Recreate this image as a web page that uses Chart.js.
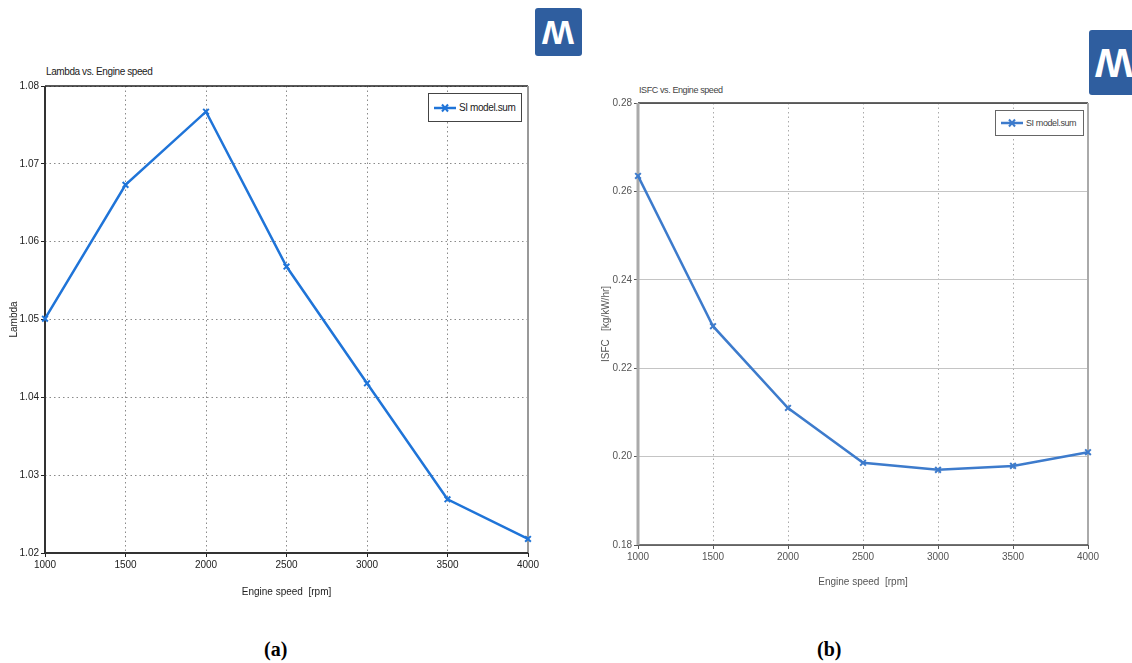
<!DOCTYPE html>
<html>
<head>
<meta charset="utf-8">
<script src="https://cdn.jsdelivr.net/npm/chart.js@4.4.0/dist/chart.umd.min.js"></script>
<style>
  html, body { margin: 0; padding: 0; background: #fff; }
  body { width: 1132px; height: 663px; position: relative; overflow: hidden;
         font-family: 'Liberation Sans Narrow', 'Liberation Sans', Arial, sans-serif; }
  .wrap { position: absolute; }
  .ttl { position: absolute; font-size: 10px; color: #222; white-space: nowrap; letter-spacing: -0.4px; }
  .legend { position: absolute; background: #fff; border: 1px solid #444; box-sizing: border-box;
            font-size: 10px; color: #222; display: flex; align-items: center; white-space: nowrap; letter-spacing: -0.4px; overflow: hidden; }
  .legend canvas { margin: 0 3px 0 5px; }
  .cap { position: absolute; font-family: 'Liberation Serif', 'Times New Roman', serif; font-weight: bold; font-size: 20px; color: #000; }
  .logo { position: absolute; background: #2f5e9f; border-radius: 3px; color: #fff; font-family: 'Liberation Sans', Arial, sans-serif;
          font-weight: bold; display: flex; align-items: center; justify-content: center; overflow: hidden; }
</style>
</head>
<body>
<div class="logo" style="left:535px;top:8px;width:47px;height:48px;font-size:34px;"><span style="transform:scaleX(-1) scaleY(-1);display:inline-block;">W</span></div>
<div class="logo" style="left:1089px;top:30px;width:50px;height:65px;font-size:40px;"><span style="transform:scaleX(-1) scaleY(-1);display:inline-block;">W</span></div>

<div class="ttl" style="left:46px;top:66px;">Lambda vs. Engine speed</div>
<div class="ttl" style="left:639px;top:85px;font-size:9px;color:#444;">ISFC vs. Engine speed</div>

<div class="wrap" style="left:0;top:60px;width:560px;height:560px;"><canvas id="c1"></canvas></div>
<div class="wrap" style="left:595px;top:70px;width:537px;height:540px;"><canvas id="c2"></canvas></div>

<div class="legend" style="left:428px;top:93px;width:94px;height:29px;"><canvas id="lg1" width="22" height="10"></canvas>SI model.sum</div>
<div class="legend" style="left:995px;top:110px;width:89px;height:26px;border-color:#666;color:#444;font-size:9px;"><canvas id="lg2" width="22" height="10"></canvas>SI model.sum</div>

<div class="cap" style="left:264px;top:638px;">(a)</div>
<div class="cap" style="left:817px;top:638px;">(b)</div>

<script>
// ---- data ----
const speeds = [1000, 1500, 2000, 2500, 3000, 3500, 4000];
const lambdaValues = [1.0501, 1.0673, 1.0767, 1.0568, 1.0418, 1.0269, 1.0218];
const isfcValues = [0.2635, 0.2295, 0.2110, 0.1986, 0.1970, 0.1979, 0.2010];
const speedTicks = [1000, 1500, 2000, 2500, 3000, 3500, 4000];
const lambdaTicks = [1.02, 1.03, 1.04, 1.05, 1.06, 1.07, 1.08];
const isfcTicks = [0.18, 0.20, 0.22, 0.24, 0.26, 0.28];
const seriesName = 'SI model.sum';

const FONT = "'Liberation Sans Narrow', 'Liberation Sans', Arial, sans-serif";

function framePlugin(cfg) {
  return {
    id: 'frame',
    beforeDatasetsDraw(chart) {
      const a = chart.chartArea, ctx = chart.ctx;
      ctx.save();
      ctx.setLineDash([]);
      const line = (x1, y1, x2, y2, c, w) => {
        ctx.strokeStyle = c; ctx.lineWidth = w;
        ctx.beginPath(); ctx.moveTo(x1, y1); ctx.lineTo(x2, y2); ctx.stroke();
      };
      line(a.left, a.top, a.right, a.top, cfg.top, cfg.topW);
      line(a.right, a.top, a.right, a.bottom, cfg.right, cfg.rightW);
      line(a.left, a.bottom, a.right, a.bottom, cfg.bottom, cfg.bottomW);
      line(a.left, a.top, a.left, a.bottom, cfg.left, cfg.leftW);
      ctx.restore();
    }
  };
}

function makeChart(id, values, yTicks, yTitle, opts) {
  const data = speeds.map((s, i) => ({ x: s, y: values[i] }));
  return new Chart(document.getElementById(id), {
    type: 'line',
    data: { datasets: [{
      label: seriesName, data,
      borderColor: opts.color, backgroundColor: opts.color,
      borderWidth: 2.5, pointStyle: 'crossRot', pointRadius: 4, pointBorderWidth: 2,
      pointBorderColor: opts.color, tension: 0, clip: false
    }]},
    options: {
      responsive: true, maintainAspectRatio: false, animation: false,
      layout: { padding: opts.padding },
      plugins: { legend: { display: false }, tooltip: { enabled: false } },
      scales: {
        x: {
          type: 'linear', min: speedTicks[0], max: speedTicks[speedTicks.length - 1],
          afterBuildTicks: s => { s.ticks = speedTicks.map(v => ({ value: v })); },
          afterFit: s => { s.height = opts.xHeight; },
          ticks: { font: { family: FONT, size: 10 }, color: opts.textColor, padding: 2,
                   maxRotation: 0, autoSkip: false, callback: v => String(v) },
          grid: { color: opts.vGrid, lineWidth: 1, tickLength: 4, tickColor: opts.textColor, tickBorderDash: [] },
          border: { display: false, dash: [1.5, 3] },
          title: { display: true, text: 'Engine speed  [rpm]', font: { family: FONT, size: 10 }, color: opts.textColor, padding: { top: 4, bottom: opts.xTitlePad } }
        },
        y: {
          type: 'linear', min: yTicks[0], max: yTicks[yTicks.length - 1],
          afterBuildTicks: s => { s.ticks = yTicks.map(v => ({ value: v })); },
          afterFit: s => { s.width = opts.yWidth; },
          ticks: { font: { family: FONT, size: 10 }, color: opts.textColor, padding: 2,
                   autoSkip: false, callback: v => Number(v).toFixed(2) },
          grid: { color: opts.hGrid, lineWidth: 1, tickLength: 4, tickColor: opts.textColor, tickBorderDash: [] },
          border: { display: false, dash: opts.hDash },
          title: { display: true, text: yTitle, font: { family: FONT, size: 10 }, color: opts.textColor, padding: { top: opts.yTitlePad, bottom: 0 } }
        }
      }
    },
    plugins: [framePlugin(opts.frame)]
  });
}

makeChart('c1', lambdaValues, lambdaTicks, 'Lambda', {
  color: '#1f74d8', textColor: '#222',
  padding: { left: 0, right: 32, top: 26, bottom: 22 },
  xHeight: 45, yWidth: 45, yTitlePad: 8, xTitlePad: 0,
  vGrid: '#8a8a8a', hGrid: '#8a8a8a', hDash: [1.5, 3],
  frame: { top: '#222', topW: 1.5, right: '#999', rightW: 2, bottom: '#333', bottomW: 2, left: '#333', leftW: 2 }
});

makeChart('c2', isfcValues, isfcTicks, 'ISFC   [kg/kW/hr]', {
  color: '#3d7bcc', textColor: '#555',
  padding: { left: 0, right: 44, top: 33, bottom: 22 },
  xHeight: 43, yWidth: 43, yTitlePad: 5, xTitlePad: 0,
  vGrid: '#aaaaaa', hGrid: '#c4c4c4', hDash: [],
  frame: { top: '#333', topW: 1.5, right: '#aaa', rightW: 2, bottom: '#444', bottomW: 1.5, left: '#aaa', leftW: 3 }
});

// legend samples
function drawSample(id, color) {
  const ctx = document.getElementById(id).getContext('2d');
  ctx.strokeStyle = color; ctx.lineWidth = 2.5;
  ctx.beginPath(); ctx.moveTo(0, 5); ctx.lineTo(22, 5); ctx.stroke();
  ctx.lineWidth = 2;
  ctx.beginPath(); ctx.moveTo(8, 1.5); ctx.lineTo(14, 8.5); ctx.moveTo(14, 1.5); ctx.lineTo(8, 8.5); ctx.stroke();
}
drawSample('lg1', '#1f74d8');
drawSample('lg2', '#3d7bcc');
</script>
</body>
</html>
